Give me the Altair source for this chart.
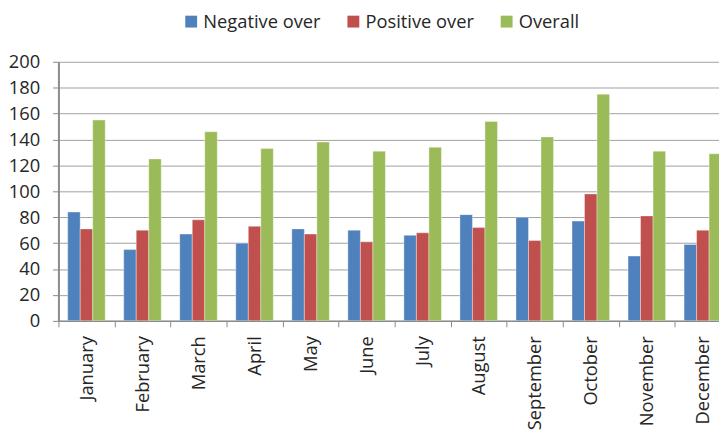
import altair as alt
import pandas as pd

months = ["January", "February", "March", "April", "May", "June",
          "July", "August", "September", "October", "November", "December"]
negative = [84, 55, 67, 60, 71, 70, 66, 82, 80, 77, 50, 59]
positive = [71, 70, 78, 73, 67, 61, 68, 72, 62, 98, 81, 70]
overall = [155, 125, 146, 133, 138, 131, 134, 154, 142, 175, 131, 129]
series = ["Negative over", "Positive over", "Overall"]
colors = ["#4F81BD", "#C0504D", "#9BBB59"]
y_ticks = [0, 20, 40, 60, 80, 100, 120, 140, 160, 180, 200]

rows = []
for i, m in enumerate(months):
    for s, vals in zip(series, [negative, positive, overall]):
        rows.append({"month": m, "series": s, "value": vals[i]})
df = pd.DataFrame(rows)

FONT = "Open Sans"
FS = 18.5
TXT = "#262626"
GRID = "#a0a0a0"
AXIS = "#8a8a8a"

chart = alt.Chart(df).mark_bar(
    clip=True, stroke="white", strokeWidth=0.6, strokeOpacity=0.6
).encode(
    x=alt.X("month:N", sort=months,
            scale=alt.Scale(range=[0, 680], paddingInner=0, paddingOuter=0),
            axis=alt.Axis(title=None, labelAngle=-90, tickBand="extent", grid=False,
                          ticks=True, tickSize=6, tickColor=AXIS, domainColor=AXIS,
                          domainWidth=1.5, labelPadding=9, labelFont=FONT,
                          labelFontSize=FS, labelColor=TXT, labelAlign="right",
                          labelBaseline="middle")),
    xOffset=alt.XOffset("series:N", sort=series,
                        scale=alt.Scale(paddingOuter=0.74, paddingInner=0)),
    y=alt.Y("value:Q", scale=alt.Scale(domain=[0, 200], nice=False),
            axis=alt.Axis(title=None, values=y_ticks, grid=True, gridColor=GRID,
                          ticks=True, tickSize=6, tickColor=AXIS, domainColor=AXIS,
                          domainWidth=2, labelPadding=13, labelFont=FONT,
                          labelFontSize=FS, labelColor=TXT)),
    color=alt.Color("series:N", sort=series,
                    scale=alt.Scale(domain=series, range=colors),
                    legend=alt.Legend(title=None, orient="none", legendX=125, legendY=-50,
                                      direction="horizontal", symbolType="square",
                                      symbolSize=144, symbolStrokeWidth=0,
                                      labelFont=FONT, labelFontSize=18.5, labelColor=TXT,
                                      columnPadding=23, labelOffset=3, padding=0)),
).properties(
    width=668, height=262,
    autosize=alt.AutoSizeParams(type="none"),
    padding={"left": 51, "top": 52, "right": 0, "bottom": 111},
).configure_view(stroke=None).configure_axis(gridWidth=1)

chart.save("out.html", embed_options={"renderer": "svg", "actions": False})
